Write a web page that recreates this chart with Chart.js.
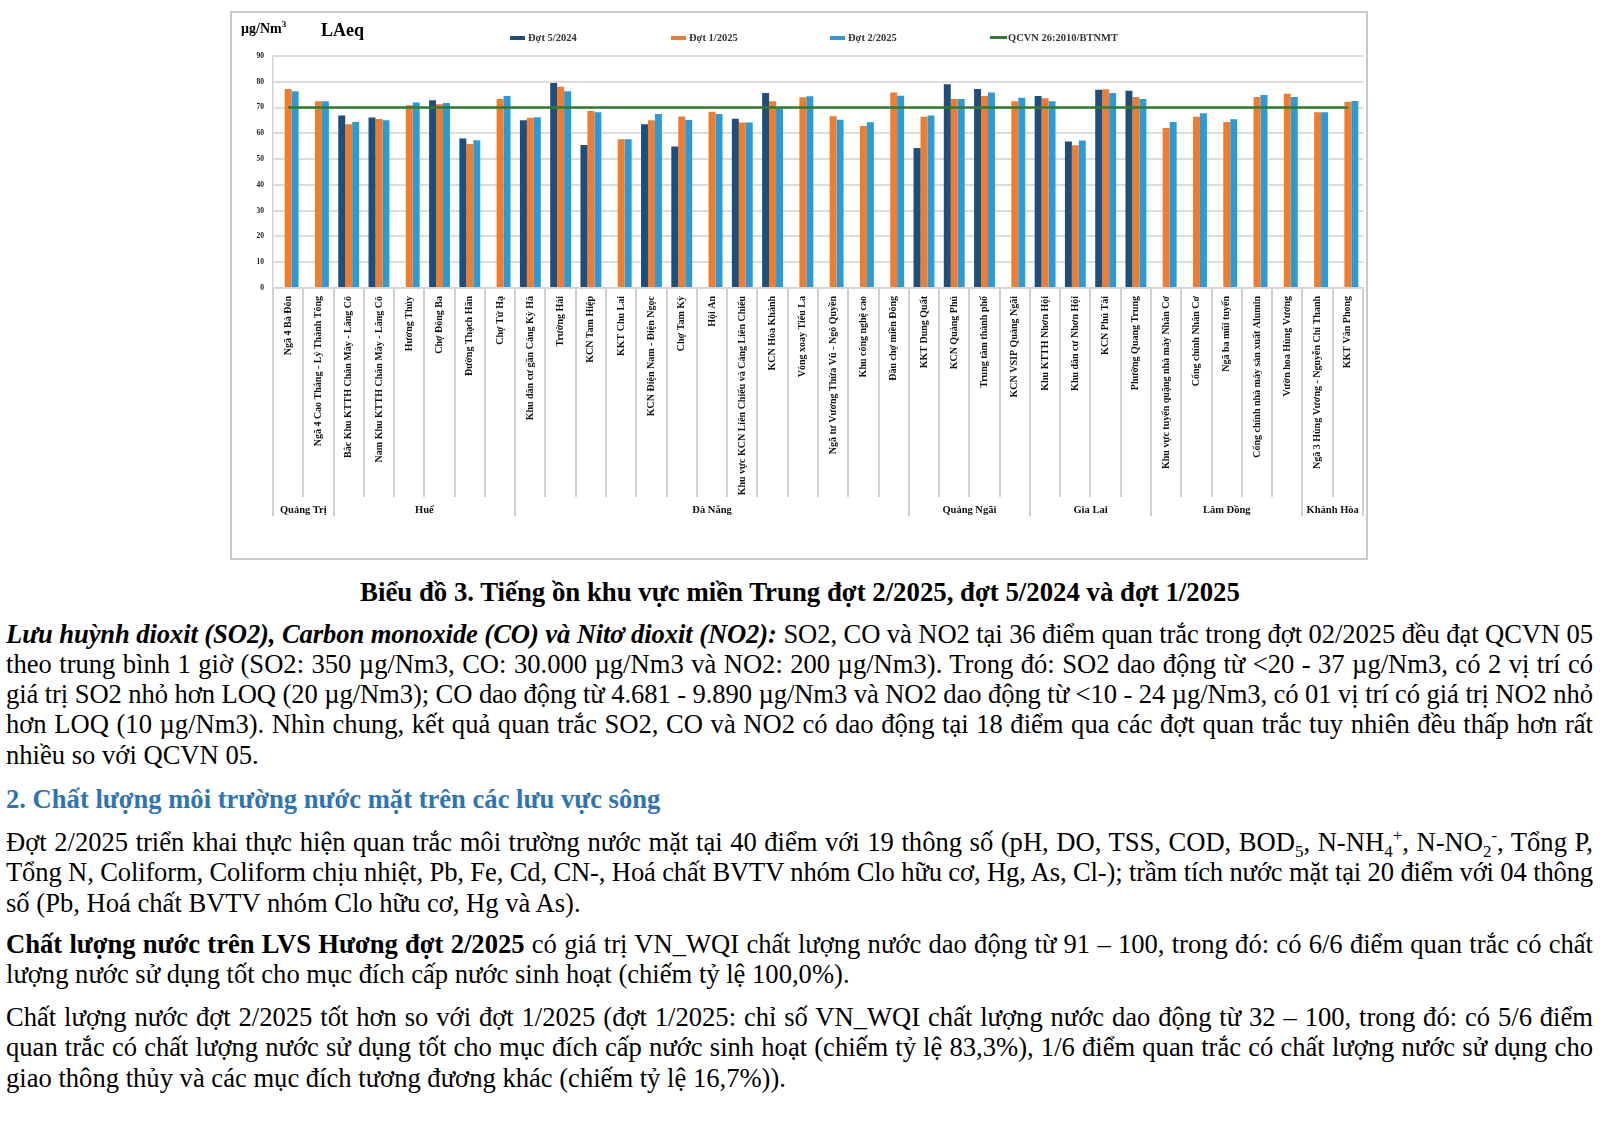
<!DOCTYPE html>
<html><head><meta charset="utf-8">
<script src="https://cdn.jsdelivr.net/npm/chart.js@4.4.1/dist/chart.umd.min.js"></script>
<style>
html,body{margin:0;padding:0;background:#fff;}
body{width:1600px;height:1131px;position:relative;overflow:hidden;font-family:"Liberation Serif","Times New Roman",serif;color:#000;}
#frame{position:absolute;left:230px;top:11px;width:1138px;height:549px;border:2px solid #C9C9C9;box-sizing:border-box;}
#wrap{position:absolute;left:231px;top:12px;width:1150px;height:546px;}
.hdr{position:absolute;font-weight:bold;line-height:1;white-space:nowrap;}
.lg{position:absolute;top:32px;height:12px;line-height:12px;font-weight:bold;font-size:10.5px;color:#333;white-space:nowrap;}
.mk{display:inline-block;width:15px;height:4px;vertical-align:middle;margin-right:3px;margin-top:-2px;}
.ln{position:absolute;left:6px;width:1587px;height:30px;line-height:30px;font-size:26.6px;white-space:nowrap;}
.ln span.t{white-space:nowrap;}
.cap{position:absolute;left:0;width:1600px;text-align:center;font-weight:bold;font-size:26.8px;height:30px;line-height:30px;}
.h2{color:#2E74B5;font-weight:bold;}
sub,sup{font-size:17px;line-height:0;}
</style>
</head><body>
<div id="frame"></div>
<div id="wrap"><canvas id="c" width="1150" height="546"></canvas></div>
<div class="hdr" style="left:241px;top:22px;font-size:14px;">µg/Nm<sup style="font-size:9px;vertical-align:6px;">3</sup></div>
<div class="hdr" style="left:321px;top:21px;font-size:18px;">LAeq</div>
<div id="legend"></div>

<div class="cap" style="top:577px;">Biểu đồ 3. Tiếng ồn khu vực miền Trung đợt 2/2025, đợt 5/2024 và đợt 1/2025</div>

<div class="ln j" style="top:619px;"><span class="t"><b><i>Lưu huỳnh dioxit (SO2), Carbon monoxide (CO) và Nitơ dioxit (NO2):</i></b> SO2, CO và NO2 tại 36 điểm quan trắc trong đợt 02/2025 đều đạt QCVN 05</span></div>
<div class="ln j" style="top:649px;"><span class="t">theo trung bình 1 giờ (SO2: 350 µg/Nm3, CO: 30.000 µg/Nm3 và NO2: 200 µg/Nm3). Trong đó: SO2 dao động từ &lt;20 - 37 µg/Nm3, có 2 vị trí có</span></div>
<div class="ln j" style="top:679px;"><span class="t">giá trị SO2 nhỏ hơn LOQ (20 µg/Nm3); CO dao động từ 4.681 - 9.890 µg/Nm3 và NO2 dao động từ &lt;10 - 24 µg/Nm3, có 01 vị trí có giá trị NO2 nhỏ</span></div>
<div class="ln j" style="top:709px;"><span class="t">hơn LOQ (10 µg/Nm3). Nhìn chung, kết quả quan trắc SO2, CO và NO2 có dao động tại 18 điểm qua các đợt quan trắc tuy nhiên đều thấp hơn rất</span></div>
<div class="ln" style="top:740px;"><span class="t">nhiều so với QCVN 05.</span></div>

<div class="ln h2" style="top:784px;"><span class="t">2. Chất lượng môi trường nước mặt trên các lưu vực sông</span></div>

<div class="ln j" style="top:827px;"><span class="t">Đợt 2/2025 triển khai thực hiện quan trắc môi trường nước mặt tại 40 điểm với 19 thông số (pH, DO, TSS, COD, BOD<sub>5</sub>, N-NH<sub>4</sub><sup>+</sup>, N-NO<sub>2</sub><sup>-</sup>, Tổng P,</span></div>
<div class="ln j" style="top:857px;"><span class="t">Tổng N, Coliform, Coliform chịu nhiệt, Pb, Fe, Cd, CN-, Hoá chất BVTV nhóm Clo hữu cơ, Hg, As, Cl-); trầm tích nước mặt tại 20 điểm với 04 thông</span></div>
<div class="ln" style="top:888px;"><span class="t">số (Pb, Hoá chất BVTV nhóm Clo hữu cơ, Hg và As).</span></div>

<div class="ln j" style="top:929px;"><span class="t"><b>Chất lượng nước trên LVS Hương đợt 2/2025</b> có giá trị VN_WQI chất lượng nước dao động từ 91 – 100, trong đó: có 6/6 điểm quan trắc có chất</span></div>
<div class="ln" style="top:959px;"><span class="t">lượng nước sử dụng tốt cho mục đích cấp nước sinh hoạt (chiếm tỷ lệ 100,0%).</span></div>

<div class="ln j" style="top:1002px;"><span class="t">Chất lượng nước đợt 2/2025 tốt hơn so với đợt 1/2025 (đợt 1/2025: chỉ số VN_WQI chất lượng nước dao động từ 32 – 100, trong đó: có 5/6 điểm</span></div>
<div class="ln j" style="top:1032px;"><span class="t">quan trắc có chất lượng nước sử dụng tốt cho mục đích cấp nước sinh hoạt (chiếm tỷ lệ 83,3%), 1/6 điểm quan trắc có chất lượng nước sử dụng cho</span></div>
<div class="ln" style="top:1063px;"><span class="t">giao thông thủy và các mục đích tương đương khác (chiếm tỷ lệ 16,7%)).</span></div>

<script>
// ---------- DATA ----------
const categories = [
  "Ngã 4 Bà Đôn", "Ngã 4 Cao Thắng - Lý Thánh Tông",
  "Bắc Khu KTTH Chân Mây - Lăng Cô", "Nam Khu KTTH Chân Mây - Lăng Cô", "Hương Thủy", "Chợ Đông Ba", "Đường Thạch Hãn", "Chợ Tứ Hạ",
  "Khu dân cư gần Cảng Kỳ Hà", "Trường Hải", "KCN Tam Hiệp", "KKT Chu Lai", "KCN Điện Nam - Điện Ngọc", "Chợ Tam Kỳ", "Hội An",
  "Khu vực KCN Liên Chiểu và Cảng Liên Chiểu", "KCN Hòa Khánh", "Vòng xoay Tiểu La", "Ngã tư Vương Thừa Vũ - Ngô Quyền", "Khu công nghệ cao", "Đầu chợ miền Đông",
  "KKT Dung Quất", "KCN Quảng Phú", "Trung tâm thành phố", "KCN VSIP Quảng Ngãi",
  "Khu KTTH Nhơn Hội", "Khu dân cư Nhơn Hội", "KCN Phú Tài", "Phường Quang Trung",
  "Khu vực tuyển quặng nhà máy Nhân Cơ", "Cổng chính Nhân Cơ", "Ngã ba mũi tuyến", "Cổng chính nhà máy sản xuất Alumin", "Vườn hoa Hùng Vương",
  "Ngã 3 Hùng Vương - Nguyễn Chí Thanh", "KKT Vân Phong"
];
const regionNames = ["Quảng Trị", "Huế", "Đà Nẵng", "Quảng Ngãi", "Gia Lai", "Lâm Đồng", "Khánh Hòa"];
const regionSizes = [2, 6, 13, 4, 4, 5, 2];

const seriesNames = ["Đợt 5/2024", "Đợt 1/2025", "Đợt 2/2025", "QCVN 26:2010/BTNMT"];
const dot5_2024 = [null, null, 66.9, 66.1, null, 72.8, 58.0, null, 65.1, 79.5, 55.5, null, 63.5, 54.9, null, 65.7, 75.6, null, null, null, null, 54.3, 79.0, 77.2, null, 74.5, 56.8, 76.9, 76.5, null, null, null, null, null, null, null];
const dot1_2025 = [77.2, 72.4, 63.5, 65.6, 70.9, 71.3, 55.9, 73.3, 66.0, 78.1, 68.7, 57.7, 65.1, 66.5, 68.4, 64.2, 72.4, 74.0, 66.6, 62.8, 75.8, 66.4, 73.3, 74.5, 72.4, 73.6, 55.4, 77.1, 74.1, 62.1, 66.4, 64.4, 74.1, 75.4, 68.2, 72.3];
const dot2_2025 = [76.3, 72.4, 64.4, 65.1, 72.0, 71.8, 57.3, 74.5, 66.2, 76.3, 68.2, 57.7, 67.5, 65.2, 67.5, 64.2, 69.7, 74.4, 65.3, 64.3, 74.6, 66.9, 73.3, 75.8, 73.8, 72.4, 57.2, 75.6, 73.3, 64.4, 67.8, 65.5, 74.9, 74.1, 68.2, 72.5];
const qcvnLimit = [70, 70, 70, 70, 70, 70, 70, 70, 70, 70, 70, 70, 70, 70, 70, 70, 70, 70, 70, 70, 70, 70, 70, 70, 70, 70, 70, 70, 70, 70, 70, 70, 70, 70, 70, 70];
const yTickMin = 0, yTickMax = 90, yTickStep = 10;

// ---------- STYLE ----------
const colors = ["#1F4E79", "#ED7D31", "#2B9BD8", "#2E7B2E"];
const FONT = '"Liberation Serif", "Times New Roman", serif';

// legend (HTML)
const legendX = [510, 671, 830, 990];
const lg = document.getElementById('legend');
seriesNames.forEach((n, i) => {
  const d = document.createElement('div');
  d.className = 'lg';
  d.style.left = legendX[i] + 'px';
  const m = document.createElement('span');
  m.className = 'mk';
  m.style.background = colors[i];
  if (i === 3) { m.style.height = '2.5px'; m.style.width = '17px'; m.style.marginRight = '1px'; }
  d.appendChild(m);
  d.appendChild(document.createTextNode(n));
  lg.appendChild(d);
});

// group axis plugin (separators + region labels)
const groupAxis = {
  id: 'groupAxis',
  afterDraw(chart) {
    const xs = chart.scales.x, ctx = chart.ctx, top = chart.chartArea.bottom;
    const n = categories.length;
    const step = xs.getPixelForValue(1) - xs.getPixelForValue(0);
    const start0 = xs.getPixelForValue(0) - step / 2;
    const bounds = new Set([0]);
    let acc = 0;
    regionSizes.forEach(s => { acc += s; bounds.add(acc); });
    ctx.save();
    ctx.strokeStyle = '#CFCFCF';
    ctx.lineWidth = 2;
    for (let i = 0; i <= n; i++) {
      const px = Math.round(start0 + i * step);
      const len = bounds.has(i) ? 228 : 209;
      ctx.beginPath(); ctx.moveTo(px, top + 1); ctx.lineTo(px, top + len); ctx.stroke();
    }
    ctx.fillStyle = '#111';
    ctx.font = 'bold 10.5px ' + FONT;
    ctx.textAlign = 'center';
    ctx.textBaseline = 'middle';
    let s0 = 0;
    regionSizes.forEach((s, k) => {
      const x0 = start0 + s0 * step, x1 = start0 + (s0 + s) * step;
      ctx.fillText(regionNames[k], (x0 + x1) / 2, top + 222);
      s0 += s;
    });
    ctx.restore();
  }
};

const barCommon = { categoryPercentage: 0.69, barPercentage: 1.0, order: 2, borderWidth: 0 };
new Chart(document.getElementById('c'), {
  data: {
    labels: categories,
    datasets: [
      { type: 'line', label: seriesNames[3], data: qcvnLimit, borderColor: colors[3], borderWidth: 2.5, pointRadius: 0, fill: false, order: 0 },
      Object.assign({ type: 'bar', label: seriesNames[0], data: dot5_2024, backgroundColor: colors[0] }, barCommon),
      Object.assign({ type: 'bar', label: seriesNames[1], data: dot1_2025, backgroundColor: colors[1] }, barCommon),
      Object.assign({ type: 'bar', label: seriesNames[2], data: dot2_2025, backgroundColor: colors[2] }, barCommon)
    ]
  },
  options: {
    responsive: false,
    animation: false,
    devicePixelRatio: 1,
    layout: { padding: { top: 44, left: 0, right: 18, bottom: 0 } },
    plugins: { legend: { display: false }, tooltip: { enabled: false } },
    scales: {
      x: {
        grid: { display: false, drawTicks: false },
        border: { display: true, color: '#D3D3D3', width: 1.5 },
        ticks: { autoSkip: false, minRotation: 90, maxRotation: 90, padding: 8, color: '#111', font: { family: FONT, size: 10, weight: 'bold' } },
        afterFit(scale) { scale.height = 270; }
      },
      y: {
        min: yTickMin, max: yTickMax,
        grid: { color: '#DCDCDC', lineWidth: 2, drawTicks: false },
        border: { display: true, color: '#D3D3D3', width: 1.5 },
        ticks: { stepSize: yTickStep, padding: 9, color: '#222', font: { family: FONT, size: 7.5, weight: 'bold' } },
        afterFit(scale) { scale.width = 42; }
      }
    }
  },
  plugins: [groupAxis]
});

// justify full lines by word spacing
const TARGET = 1587;
document.querySelectorAll('.ln.j').forEach(el => {
  const sp = el.querySelector('span.t');
  const w = sp.getBoundingClientRect().width;
  const txt = sp.textContent;
  const spaces = (txt.match(/ /g) || []).length;
  if (w > TARGET) {
    sp.style.letterSpacing = ((TARGET - w) / txt.length) + 'px';
  } else if (spaces) {
    sp.style.wordSpacing = ((TARGET - w) / spaces) + 'px';
  }
});
</script>
</body></html>
